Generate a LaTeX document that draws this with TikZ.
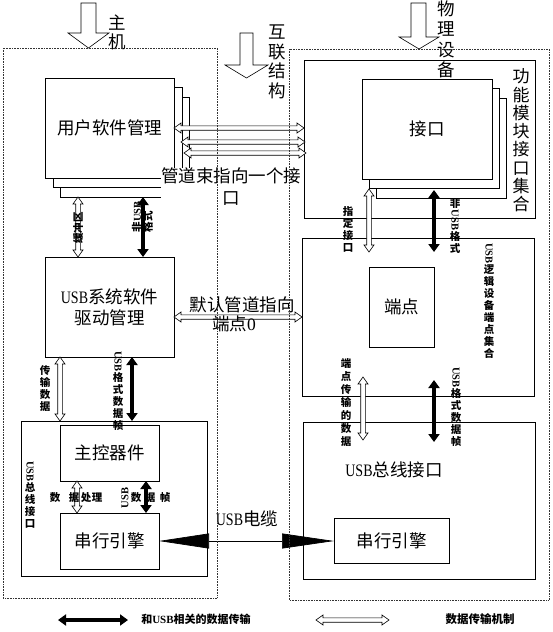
\documentclass[tikz,border=0pt]{standalone}
\usepackage{fontspec}
\setmainfont{Noto Sans CJK SC}
\newfontfamily\latf{Liberation Serif}
\usetikzlibrary{arrows.meta,calc}
\newcommand\usb{{\latf\scalebox{0.8}[1]{USB}}}
\newcommand\rusb{\rotatebox[origin=c]{-90}{\latf USB}}
\newcommand\lusb{\rotatebox[origin=c]{90}{\latf USB}}
% hollow double arrows (vertical: #1 top, #2 bottom; horizontal: #1 left, #2 right)
\newcommand\hollowV[2]{%
  \draw[hol] let \p1=(#1), \p2=(#2) in
   (\x1,\y1) -- (\x1+5pt,\y1-7pt) -- (\x1+2.3pt,\y1-7pt) -- (\x1+2.3pt,\y2+7pt)
   -- (\x1+5pt,\y2+7pt) -- (\x1,\y2) -- (\x1-5pt,\y2+7pt) -- (\x1-2.3pt,\y2+7pt)
   -- (\x1-2.3pt,\y1-7pt) -- (\x1-5pt,\y1-7pt) -- cycle;}
\newcommand\hollowH[2]{%
  \draw[hol] let \p1=(#1), \p2=(#2) in
   (\x1,\y1) -- (\x1+7pt,\y1+5pt) -- (\x1+7pt,\y1+2.2pt) -- (\x2-7pt,\y1+2.2pt)
   -- (\x2-7pt,\y1+5pt) -- (\x2,\y1) -- (\x2-7pt,\y1-5pt) -- (\x2-7pt,\y1-2.2pt)
   -- (\x1+7pt,\y1-2.2pt) -- (\x1+7pt,\y1-5pt) -- cycle;}
\begin{document}
\begin{tikzpicture}[x=1pt,y=-1pt,
  box/.style={draw, line width=0.7pt, fill=white, inner sep=0pt, outer sep=0pt},
  sz/.style 2 args={minimum width=#1pt, minimum height=#2pt},
  big/.style={font=\fontsize{17.5}{21}\selectfont, inner sep=0pt},
  small/.style={font=\fontsize{10.5}{12}\selectfont\bfseries, inner sep=0pt},
  col/.style={small, align=center},
  blk/.style={line width=3.8pt, {Triangle[length=8pt,width=11pt]}-{Triangle[length=8pt,width=11pt]}},
  dotbox/.style={densely dotted, line width=0.6pt, draw=black!80},
  hol/.style={draw, fill=white, line width=0.6pt},
]
\useasboundingbox (0,0) rectangle (552,632);

% ---- top input arrows ----
\draw[hol] (81,3) -- (96,3) -- (96,33) -- (109,33) -- (88.5,48) -- (68,33) -- (81,33) -- cycle;
\draw[hol] (240,33) -- (253,33) -- (253,65) -- (268,65) -- (246.5,78) -- (225,65) -- (240,65) -- cycle;
\draw[hol] (411,3) -- (426,3) -- (426,37) -- (439,37) -- (419,49) -- (399,37) -- (411,37) -- cycle;

% ---- host side ----
\node[box, sz={129}{100}] (usr3) at (124.5,147) {};
\node[box, sz={129}{100}] (usr2) at (117.5,137) {};
\node[box, sz={129}{100}, big] (usr) at (109.5,128) {用户软件管理};
\node[box, sz={129}{100}, big, align=center] (usbsys) at (109.5,307) {\usb 系统软件\\驱动管理};
\node[box, sz={186}{155}] (lbus) at (114,498.5) {};
\node[box, sz={99}{56}, big] (hc) at (109.5,453) {主控器件};
\node[box, sz={99}{56}, big] (lse) at (109.5,541) {串行引擎};

% ---- device side ----
\node[box, sz={231}{158}] (fm) at (419.5,139) {};
\node[box, sz={130}{100}] (ifc3) at (441,148) {};
\node[box, sz={130}{100}] (ifc2) at (434,138) {};
\node[box, sz={130}{100}, big] (ifc) at (427,129) {接口};
\node[big, align=center, font=\fontsize{17}{18.3}\selectfont] (lfm) at (521,140.5) {功\\能\\模\\块\\接\\口\\集\\合};
\node[box, sz={232}{158}] (lgc) at (418,317) {};
\node[box, sz={65}{80}, big] (ep) at (401.5,307) {端点};
\node[box, sz={232}{157}] (rbus) at (419,500.5) {};
\node[big] (lrbus) at (394,470) {\usb 总线接口};
\node[box, sz={115}{45}, big] (rse) at (391.5,540.5) {串行引擎};

% ---- top labels (over the frames) ----
\node[big, align=center, font=\fontsize{17.5}{19}\selectfont] (lhost) at (117,32.5) {主\\机};
\node[big, align=center, font=\fontsize{17.5}{19.5}\selectfont] (lint) at (277,62) {互\\联\\结\\构};
\node[big, align=center, font=\fontsize{17.5}{20.5}\selectfont] (ldev) at (446,39.5) {物\\理\\设\\备};

% ---- connector end points ----
\coordinate (h1a) at (174,128); \coordinate (h1b) at (304,128);
\coordinate (h2a) at (181,142); \coordinate (h2b) at (305,142);
\coordinate (h3a) at (184,153); \coordinate (h3b) at (306,153);
\coordinate (d0a) at (174,317); \coordinate (d0b) at (302,317);
\coordinate (bufT) at (78,197); \coordinate (bufB) at (78,257);
\coordinate (nuLT) at (143,197); \coordinate (nuLB) at (143,257);
\coordinate (txT) at (60,357); \coordinate (txB) at (60,421);
\coordinate (ufLT) at (132,357); \coordinate (ufLB) at (132,421);
\coordinate (dpT) at (77,481); \coordinate (dpB) at (77,513);
\coordinate (dfT) at (146,481); \coordinate (dfB) at (146,513);
\coordinate (spT) at (369,189); \coordinate (spB) at (369,252);
\coordinate (nuRT) at (434,190); \coordinate (nuRB) at (434,252);
\coordinate (etT) at (363,377); \coordinate (etB) at (363,440);
\coordinate (ufRT) at (434,380); \coordinate (ufRB) at (434,442);
\coordinate (lg1a) at (58,620); \coordinate (lg1b) at (128,620);
\coordinate (lg2a) at (316,620); \coordinate (lg2b) at (389,620);

% ---- hollow arrows ----
\hollowH{h1a}{h1b}
\hollowH{h2a}{h2b}
\hollowH{h3a}{h3b}
\hollowH{d0a}{d0b}
\hollowV{bufT}{bufB}
\hollowV{txT}{txB}
\hollowV{dpT}{dpB}
\hollowV{spT}{spB}
\hollowV{etT}{etB}
\hollowH{lg2a}{lg2b}

% ---- black arrows ----
\draw[blk] (nuLT) -- (nuLB);
\draw[blk] (ufLT) -- (ufLB);
\draw[blk] (dfT) -- (dfB);
\draw[blk] (nuRT) -- (nuRB);
\draw[blk] (ufRT) -- (ufRB);
\draw[blk, line width=3.2pt] (lg1a) -- (lg1b);
\draw[line width=0.7pt, {Triangle[length=50pt,width=15pt]}-{Triangle[length=52pt,width=15pt]}] (lse.east) -- (lse.east -| rse.west);

% ---- labels ----
\node[big, align=center, fill=white, font=\fontsize{17.5}{22}\selectfont] (lbundle) at (231,187) {管道束指向一个接\\口};
\node[big] (ldef1) at (242,305) {默认管道指向};
\node[big] (ldef2) at (234,324) {端点{\latf 0}};
\node[big] (lcable) at (247,519) {\usb 电缆};

\node[small, rotate=90] (lbuf) at (78,228) {缓冲区};
\node[small, rotate=90, align=left, font=\fontsize{10.5}{11}\selectfont\bfseries] (lnuL) at (142.5,217) {非{\latf USB}\\格式};
\node[col] (ltx) at (45,389) {传\\输\\数\\据};
\node[col] (lufL) at (118,391) {\rusb\\格\\式\\数\\据\\帧};
\node[col] (llbus) at (30,495) {\rusb\\总\\线\\接\\口};
\node[small] (dp1) at (55,498) {数};
\node[small] (dp2) at (74,498) {据};
\node[small] (dp3) at (86,498) {处};
\node[small] (dp4) at (97,498) {理};
\node[small] (df1) at (125,498) {\lusb};
\node[small] (df2) at (136,498) {数};
\node[small] (df3) at (150,498) {据};
\node[small] (df4) at (165,498) {帧};

\node[col] (lsp) at (348,229) {指\\定\\接\\口};
\node[col] (lnuR) at (455,226) {非\\\rusb\\格\\式};
\node[col] (llgc) at (489,301) {\rusb\\逻\\辑\\设\\备\\端\\点\\集\\合};
\node[col, font=\fontsize{10.5}{13}\selectfont\bfseries] (let) at (346,403) {端\\点\\传\\输\\的\\数\\据};
\node[col] (lufR) at (456,407) {\rusb\\格\\式\\数\\据\\帧};

\node[small, font=\fontsize{11}{12}\selectfont\bfseries] (lg1t) at (196,619) {和{\latf USB}相关的数据传输};
\node[small, font=\fontsize{11.5}{12}\selectfont\bfseries] (lg2t) at (480,619) {数据传输机制};

% ---- dotted outer frames ----
\draw[dotbox] (3,48) rectangle (217,598);
\draw[dotbox] (289,49) rectangle (549,600);
\end{tikzpicture}
\end{document}
